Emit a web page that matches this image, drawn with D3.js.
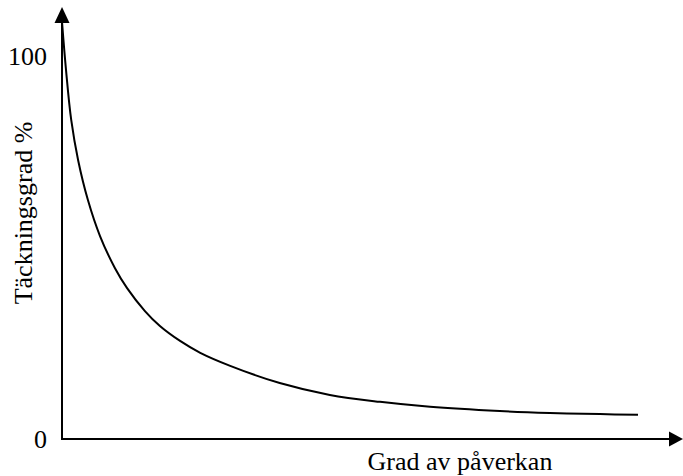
<!DOCTYPE html>
<html>
<head>
<meta charset="utf-8">
<script src="https://cdn.jsdelivr.net/npm/d3@7"></script>
<style>
  body { margin: 0; background: #fff; }
  svg { display: block; font-family: "Times New Roman", "Liberation Serif", serif; }
</style>
</head>
<body>
<div id="chart"></div>
<script>
// schematic curve: coverage (%) vs degree of impact
const impact = [0, 0.7, 1.6, 2.8, 4.5, 6.6, 9.2, 11.3, 14.4, 17, 20.5, 24, 29.2, 37.8, 46.5, 55.2, 63.9, 76, 84.7, 93.4, 100];
const coverage = [108.9, 96.3, 83.3, 72.8, 62.4, 53.0, 44.6, 39.4, 33.4, 29.5, 25.6, 22.5, 19.1, 14.6, 11.5, 9.7, 8.4, 7.3, 6.8, 6.5, 6.3];
const yTicks = [0, 100];
const xLabel = 'Grad av påverkan';
const yLabel = 'Täckningsgrad %';

const width = 683;
const height = 476;

const svg = d3.select('#chart').append('svg')
  .attr('width', width)
  .attr('height', height);

const xScale = d3.scaleLinear().domain([0, 100]).range([62, 638]);
const yScale = d3.scaleLinear().domain([0, 100]).range([439, 56]);

const x0 = xScale(0);
const y0 = yScale(0);

// axes lines with arrow heads
svg.append('line')
  .attr('x1', x0).attr('y1', y0 + 1)
  .attr('x2', x0).attr('y2', 20)
  .attr('stroke', '#000').attr('stroke-width', 2);
svg.append('path')
  .attr('d', `M${x0},7 L${x0 - 7.5},23 L${x0 + 7.5},23 Z`)
  .attr('fill', '#000');

svg.append('line')
  .attr('x1', x0 - 1).attr('y1', y0)
  .attr('x2', 672).attr('y2', y0)
  .attr('stroke', '#000').attr('stroke-width', 2);
svg.append('path')
  .attr('d', `M683,${y0} L669,${y0 - 7.5} L669,${y0 + 7.5} Z`)
  .attr('fill', '#000');

// tick labels only
const yAxis = svg.append('g')
  .attr('transform', `translate(${x0},0)`)
  .call(d3.axisLeft(yScale).tickValues(yTicks).tickSize(0).tickPadding(15));
yAxis.select('.domain').remove();
yAxis.selectAll('text')
  .attr('font-size', 26)
  .attr('font-family', '"Times New Roman", "Liberation Serif", serif')
  .attr('fill', '#000');

// curve
const line = d3.line()
  .x((d, i) => xScale(impact[i]))
  .y((d) => yScale(d))
  .curve(d3.curveCatmullRom.alpha(0.5));

svg.append('path')
  .datum(coverage)
  .attr('d', line)
  .attr('fill', 'none')
  .attr('stroke', '#000')
  .attr('stroke-width', 2);

// axis titles
svg.append('text')
  .attr('x', 460)
  .attr('y', 470)
  .attr('text-anchor', 'middle')
  .attr('font-size', 26)
  .text(xLabel);

svg.append('text')
  .attr('transform', 'translate(32,213) rotate(-90)')
  .attr('text-anchor', 'middle')
  .attr('font-size', 26)
  .text(yLabel);
</script>
</body>
</html>
